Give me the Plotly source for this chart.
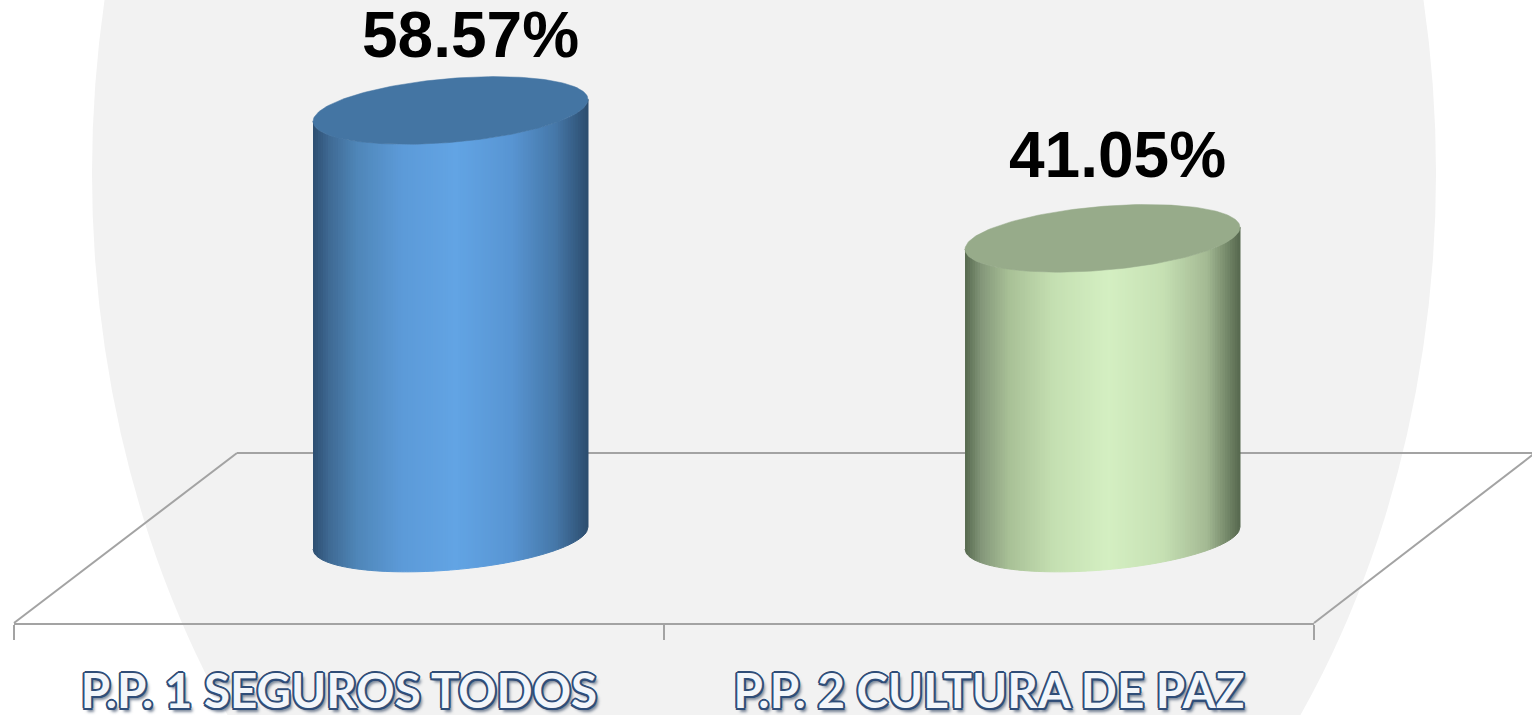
import numpy as np
import plotly.graph_objects as go

categories = ["P.P. 1 SEGUROS TODOS", "P.P. 2 CULTURA DE PAZ"]
values = [58.57, 41.05]
labels = ["58.57%", "41.05%"]

W, H = 1532, 715
LEFT, RIGHT, AXIS_Y = 14, 1314, 623
PX_PER_X = (RIGHT - LEFT) / 2
PX_PER_VAL = 7.3
ZERO_PX = 538
DEPTH_DX = [111.5 / PX_PER_X, 113.5 / PX_PER_X]
RADIUS_X = 137.5 / PX_PER_X
TILT = 11 / PX_PER_VAL
MINOR = 32 / PX_PER_VAL

side_stops = [
    (0.00, ["#2d4e70", "#56684e"]), (0.06, ["#3f6a94", "#84977a"]),
    (0.16, ["#4f86b8", "#a8c096"]), (0.32, ["#5c9ad8", "#c4dfb1"]),
    (0.52, ["#62a4e4", "#d4efc2"]), (0.72, ["#5895d3", "#c6e0b3"]),
    (0.88, ["#4678a9", "#a3b993"]), (1.00, ["#2c4d6e", "#56684e"]),
]
cap_colors = ["#4475a3", "#97ab8a"]


def mix(pos, idx):
    xs = [s[0] for s in side_stops]
    rgb = [[int(s[1][idx][k:k + 2], 16) for s in side_stops] for k in (1, 3, 5)]
    return "rgb(%d,%d,%d)" % tuple(round(float(np.interp(pos, xs, c))) for c in rgb)


fig = go.Figure()
N = 110
for i, v in enumerate(values):
    cx = i + 0.5 + DEPTH_DX[i]
    edges = np.linspace(-1, 1, N + 1)
    for j in range(N):
        u = np.linspace(edges[j], edges[j + 1], 3)
        sin_t = np.sqrt(np.clip(1 - u ** 2, 0, 1))
        top = v + TILT * u - MINOR * sin_t
        base = TILT * u - MINOR * sin_t
        xs = np.r_[cx + RADIUS_X * u, cx + RADIUS_X * u[::-1]]
        ys = np.r_[top, base[::-1]]
        c = mix((j + 0.5) / N, i)
        fig.add_trace(go.Scatter(x=xs, y=ys, mode="lines", fill="toself", fillcolor=c,
                                 line=dict(color=c, width=1), hoverinfo="skip", showlegend=False))
    t = np.linspace(0, 2 * np.pi, 181)
    fig.add_trace(go.Scatter(x=cx + RADIUS_X * np.cos(t), y=v + TILT * np.cos(t) + MINOR * np.sin(t),
                             mode="lines", fill="toself", fillcolor=cap_colors[i],
                             line=dict(color=cap_colors[i], width=0.5), hoverinfo="skip", showlegend=False))

label_dx = [19.5, 14.5]
label_dy = [75, 83]
for i, v in enumerate(values):
    fig.add_annotation(x=i + 0.5 + DEPTH_DX[i], y=v, text="<b>%s</b>" % labels[i], showarrow=False,
                       xshift=label_dx[i], yshift=label_dy[i],
                       font=dict(family="Liberation Sans", size=64, color="#000000"),
                       xanchor="center", yanchor="middle")


def px(x):
    return (x - LEFT) / (RIGHT - LEFT)


def py(y):
    return 1 - y / AXIS_Y


LINE = dict(color="#a3a3a3", width=2)
shapes = [
    dict(type="circle", xref="paper", yref="paper", x0=px(92), x1=px(1436), y0=py(173 - 900), y1=py(173 + 900),
         fillcolor="#f2f2f2", line=dict(width=0), layer="below"),
    dict(type="line", xref="paper", yref="paper", x0=px(237), x1=px(1532), y0=py(453), y1=py(453), line=LINE, layer="below"),
    dict(type="line", xref="paper", yref="paper", x0=px(14), x1=px(237), y0=py(623), y1=py(453), line=LINE, layer="below"),
    dict(type="line", xref="paper", yref="paper", x0=px(1314), x1=px(1535), y0=py(623), y1=py(453), line=LINE, layer="below"),
]

OUT = "#2f4d78"
shadow = ",".join(f"{a}px {b}px 0 {OUT}" for a, b in [(-2, 0), (2, 0), (0, -2), (0, 2), (-1.5, -1.5), (1.5, 1.5), (-1.5, 1.5), (1.5, -1.5)]) + ",3px 4px 3px rgba(40,60,90,.6)"

fig.update_layout(
    width=W, height=H, autosize=False,
    margin=dict(l=LEFT, r=W - RIGHT, t=0, b=H - AXIS_Y, pad=0),
    paper_bgcolor="#ffffff", plot_bgcolor="rgba(0,0,0,0)", showlegend=False, shapes=shapes,
    xaxis=dict(range=[0, 2], automargin=False, tickmode="array", tickvals=[0.5, 1.5], ticktext=categories, ticks="",
               showgrid=False, zeroline=False, showline=True, linecolor="#a3a3a3", linewidth=2,
               ticklabelstandoff=26,
               tickfont=dict(family="Lato", size=47.5, color="#f3f6fa", shadow=shadow, weight="bold"),
               minor=dict(tickmode="array", tickvals=[0, 1, 2], ticks="outside", ticklen=15, tickwidth=1.5, tickcolor="#a3a3a3", showgrid=False)),
    yaxis=dict(range=[(ZERO_PX - AXIS_Y) / PX_PER_VAL, ZERO_PX / PX_PER_VAL], automargin=False, visible=False, showgrid=False, zeroline=False),
)
fig.write_html("out.html", config={"displayModeBar": False},
               post_script="document.body.style.margin='0';document.body.style.overflow='hidden';")
